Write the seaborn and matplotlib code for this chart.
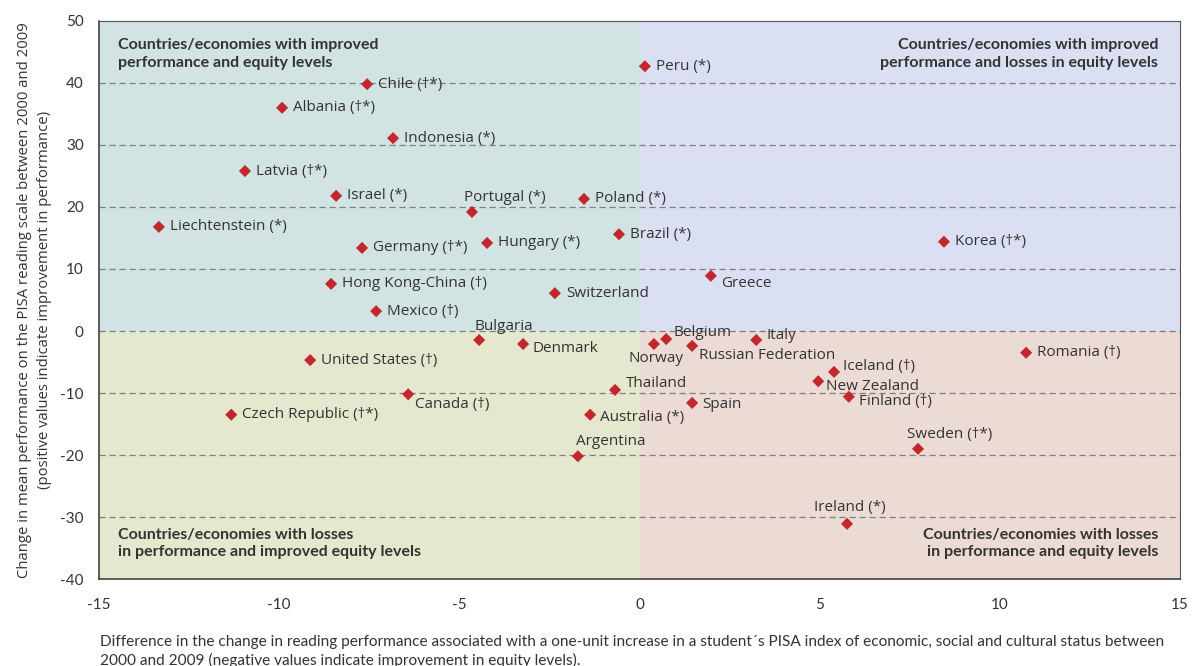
import pandas as pd
import matplotlib.pyplot as plt
import seaborn as sns
from matplotlib.patches import Rectangle

countries = ["Chile (\u2020*)", "Albania (\u2020*)", "Indonesia (*)", "Latvia (\u2020*)", "Israel (*)",
             "Portugal (*)", "Poland (*)", "Liechtenstein (*)", "Germany (\u2020*)", "Hungary (*)",
             "Brazil (*)", "Hong Kong-China (\u2020)", "Switzerland", "Mexico (\u2020)", "Bulgaria",
             "Denmark", "United States (\u2020)", "Canada (\u2020)", "Czech Republic (\u2020*)", "Thailand",
             "Australia (*)", "Argentina", "Peru (*)", "Korea (\u2020*)", "Greece", "Norway", "Belgium",
             "Russian Federation", "Italy", "Romania (\u2020)", "Iceland (\u2020)", "New Zealand",
             "Finland (\u2020)", "Spain", "Sweden (\u2020*)", "Ireland (*)"]
equity = [-7.56, -9.92, -6.84, -10.95, -8.42, -4.65, -1.54, -13.34, -7.70, -4.23,
          -0.57, -8.56, -2.35, -7.31, -4.45, -3.23, -9.14, -6.42, -11.33, -0.68,
          -1.37, -1.71, 0.15, 8.45, 1.98, 0.40, 0.74, 1.46, 3.24, 10.73,
          5.40, 4.96, 5.81, 1.46, 7.73, 5.76]
performance = [39.8, 36.0, 31.1, 25.8, 21.8, 19.2, 21.3, 16.8, 13.4, 14.2,
               15.6, 7.6, 6.1, 3.2, -1.45, -2.1, -4.7, -10.2, -13.5, -9.5,
               -13.5, -20.2, 42.7, 14.4, 8.9, -2.1, -1.3, -2.4, -1.45, -3.5,
               -6.6, -8.1, -10.6, -11.6, -19.0, -31.1]

df = pd.DataFrame({"country": countries, "equity": equity, "performance": performance})

# label offsets in pixels (dx, dy, ha); default is to the right of the marker
offsets = {
    "Portugal (*)": (-8, 14, "left"),
    "Bulgaria": (-5, 13, "left"),
    "Denmark": (9, -4, "left"),
    "Canada (\u2020)": (7, -10, "left"),
    "Thailand": (11, 6, "left"),
    "Australia (*)": (10, -3, "left"),
    "Argentina": (-2, 15, "left"),
    "Norway": (2, -14, "center"),
    "Belgium": (7, 7, "left"),
    "Russian Federation": (7, -10, "left"),
    "Italy": (10, 4, "left"),
    "Greece": (10, -8, "left"),
    "Iceland (\u2020)": (9, 5, "left"),
    "New Zealand": (8, -5, "left"),
    "Finland (\u2020)": (10, -5, "left"),
    "Spain": (10, -2, "left"),
    "Sweden (\u2020*)": (-11, 14, "left"),
    "Ireland (*)": (3, 16, "center"),
}

sns.set_style("white")
plt.rcParams["font.family"] = ["Open Sans", "DejaVu Sans"]
plt.rcParams["axes.unicode_minus"] = False
narrow = ["Lato", "DejaVu Sans"]

fig = plt.figure(figsize=(11.92, 6.66), dpi=100)
ax = fig.add_axes([0.0831, 0.1306, 0.9068, 0.8379])

# quadrant backgrounds
ax.add_patch(Rectangle((-15, 0), 15, 50, color="#d2e3e4", zorder=0, lw=0))
ax.add_patch(Rectangle((0, 0), 15, 50, color="#dae0f1", zorder=0, lw=0))
ax.add_patch(Rectangle((-15, -40), 15, 40, color="#e5e8cf", zorder=0, lw=0))
ax.add_patch(Rectangle((0, -40), 15, 40, color="#ecdad4", zorder=0, lw=0))

for yv in range(-30, 50, 10):
    ax.axhline(yv, color="#7f7f7f", lw=0.9, ls=(0, (5, 3)), zorder=1)

sns.scatterplot(data=df, x="equity", y="performance", marker="D", s=38,
                color="#c1272d", edgecolor="none", ax=ax, zorder=3)

px = 72 / 100
for c, xv, yv in zip(countries, equity, performance):
    dx, dy, ha = offsets.get(c, (11, 0, "left"))
    ax.annotate(c, (xv, yv), xytext=(dx * px, dy * px), textcoords="offset points",
                ha=ha, va="center", fontsize=11, color="#333333", zorder=4)

qt = dict(fontsize=11.5, fontweight="bold", color="#333333", transform=ax.transAxes,
          linespacing=1.3, family=narrow)
ax.text(0.0176, 0.969, "Countries/economies with improved\nperformance and equity levels",
        ha="left", va="top", **qt)
ax.text(0.98, 0.969, "Countries/economies with improved\nperformance and losses in equity levels",
        ha="right", va="top", **qt)
ax.text(0.0176, 0.036, "Countries/economies with losses\nin performance and improved equity levels",
        ha="left", va="bottom", **qt)
ax.text(0.98, 0.036, "Countries/economies with losses\nin performance and equity levels",
        ha="right", va="bottom", **qt)

ax.set_xlim(-15, 15)
ax.set_ylim(-40, 50)
ax.set_xticks(range(-15, 16, 5))
ax.set_yticks(range(-40, 51, 10))
ax.tick_params(axis="both", direction="out", length=5, width=0.8, color="#333333",
               labelsize=11, labelcolor="#333333", pad=6)
ax.tick_params(axis="x", pad=9)
for lab in ax.get_xticklabels() + ax.get_yticklabels():
    lab.set_family(narrow)
for side in ["left", "bottom"]:
    ax.spines[side].set_color("#333333")
    ax.spines[side].set_linewidth(1.1)
for side in ["top", "right"]:
    ax.spines[side].set_color("#555555")
    ax.spines[side].set_linewidth(0.8)
ax.set_xlabel("")
ax.set_ylabel("Change in mean performance on the PISA reading scale between 2000 and 2009\n"
              "(positive values indicate improvement in performance)",
              fontsize=10.7, color="#333333", labelpad=6, linespacing=1.45)

fig.text(0.0839, 0.046, "Difference in the change in reading performance associated with a one-unit "
         "increase in a student\u00b4s PISA index of economic, social and cultural status between\n"
         "2000 and 2009 (negative values indicate improvement in equity levels).",
         ha="left", va="top", fontsize=11.1, color="#333333", linespacing=1.3,
         family=narrow)

fig.savefig("out.png", dpi=100)
